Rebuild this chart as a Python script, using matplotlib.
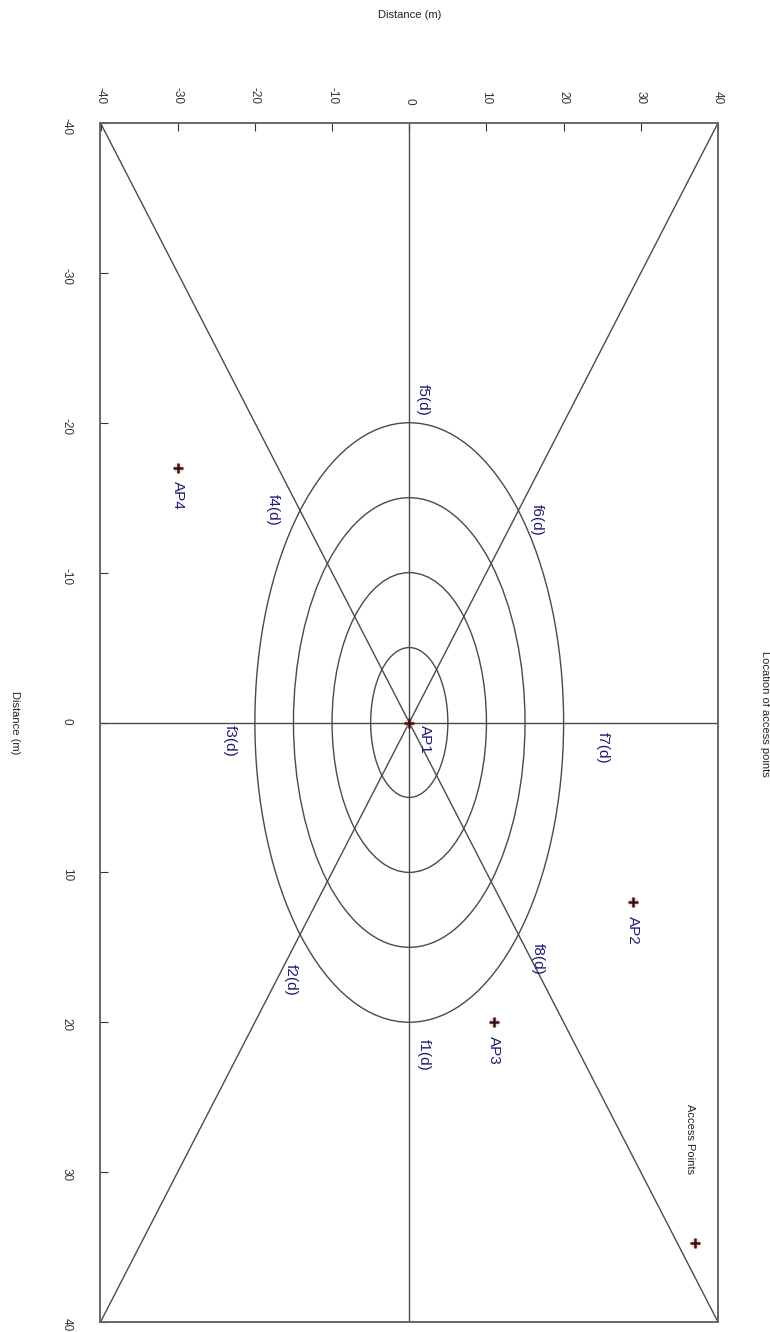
import matplotlib.pyplot as plt
from matplotlib.patches import Circle

plt.rcParams['font.family'] = ['Liberation Sans', 'DejaVu Sans']
plt.rcParams['axes.unicode_minus'] = False

# chart coordinates of the original (un-rotated) plot:
# x runs along the long side, y along the short side
ap_names = ['AP1', 'AP2', 'AP3', 'AP4']
ap_x = [0, 12, 20, -17]
ap_y = [0, 29, 11, -30]

radii = [5, 10, 15, 20]
ticks = [-40, -30, -20, -10, 0, 10, 20, 30, 40]

f_names = ['f1(d)', 'f2(d)', 'f3(d)', 'f4(d)', 'f5(d)', 'f6(d)', 'f7(d)', 'f8(d)']
f_x = [22.2, 17.2, 1.2, -14.2, -21.5, -13.5, 1.7, 15.8]
f_y = [1.9, -15.4, -23.2, -17.7, 1.7, 16.5, 25.1, 16.7]

# diagonals from corner to corner
diag_x = [[-40, 40], [-40, 40]]
diag_y = [[-40, 40], [40, -40]]

line_col = '#4a4a4a'
text_col = '#1c1c78'

fig = plt.figure(figsize=(7.7, 13.32), dpi=100)
# the picture is the original chart turned 90 degrees clockwise:
# screen horizontal = y, screen vertical = x (downwards)
ax = fig.add_axes([100.5 / 770, 10 / 1332, 617.5 / 770, 1199 / 1332])
ax.set_xlim(-40, 40)
ax.set_ylim(-40, 40)
ax.invert_yaxis()

for dx, dy in zip(diag_x, diag_y):
    ax.plot(dy, dx, color=line_col, lw=1)
ax.axhline(0, color=line_col, lw=1)
ax.axvline(0, color=line_col, lw=1)

for r in radii:
    ax.add_patch(Circle((0, 0), r, fill=False, ec=line_col, lw=1))

# access points
ax.plot(ap_y, ap_x, 'o', color='#e89090', alpha=0.35, ms=7, mew=0, zorder=4)
ax.plot(ap_y, ap_x, '+', color='#3a1414', ms=7, mew=1.8, zorder=5)
for name, x, y in zip(ap_names, ap_x, ap_y):
    off = (11, -12) if name == 'AP1' else (0, -20)
    ax.annotate(name, (y, x), xytext=off, textcoords='offset points',
                rotation=-90, ha='center', va='center', fontsize=11, color=text_col)

for name, x, y in zip(f_names, f_x, f_y):
    ax.text(y, x, name, rotation=-90, ha='center', va='center', fontsize=11, color=text_col)

# legend
ax.plot([0.963], [0.066], 'o', color='#e89090', alpha=0.35, ms=7, mew=0, transform=ax.transAxes)
ax.plot([0.963], [0.066], '+', color='#3a1414', ms=7, mew=1.8, transform=ax.transAxes)
ax.text(0.954, 0.153, 'Access Points', rotation=-90, ha='center', va='center',
        fontsize=8, color='#222222', transform=ax.transAxes)

ax.set_xticks(ticks)
ax.set_yticks(ticks)
ax.xaxis.tick_top()
ax.tick_params(axis='x', direction='in', length=6, pad=13.5, labelsize=8.5,
               labelrotation=-90, colors='#333333')
ax.tick_params(axis='y', direction='in', length=6, pad=20, labelsize=8.5,
               labelrotation=-90, colors='#333333')
for s in ax.spines.values():
    s.set_color('#666666')
    s.set_linewidth(1.4)

fig.text(410 / 770, 1 - 15 / 1332, 'Distance (m)', ha='center', va='center', fontsize=8, color='#222222')
fig.text(15 / 770, 1 - 723 / 1332, 'Distance (m)', rotation=-90, ha='center', va='center',
         fontsize=8, color='#222222')
fig.text(765 / 770, 1 - 714 / 1332, 'Location of access points', rotation=-90, ha='center',
         va='center', fontsize=8, color='#222222')

fig.savefig('out.png', dpi=100, facecolor='white')
